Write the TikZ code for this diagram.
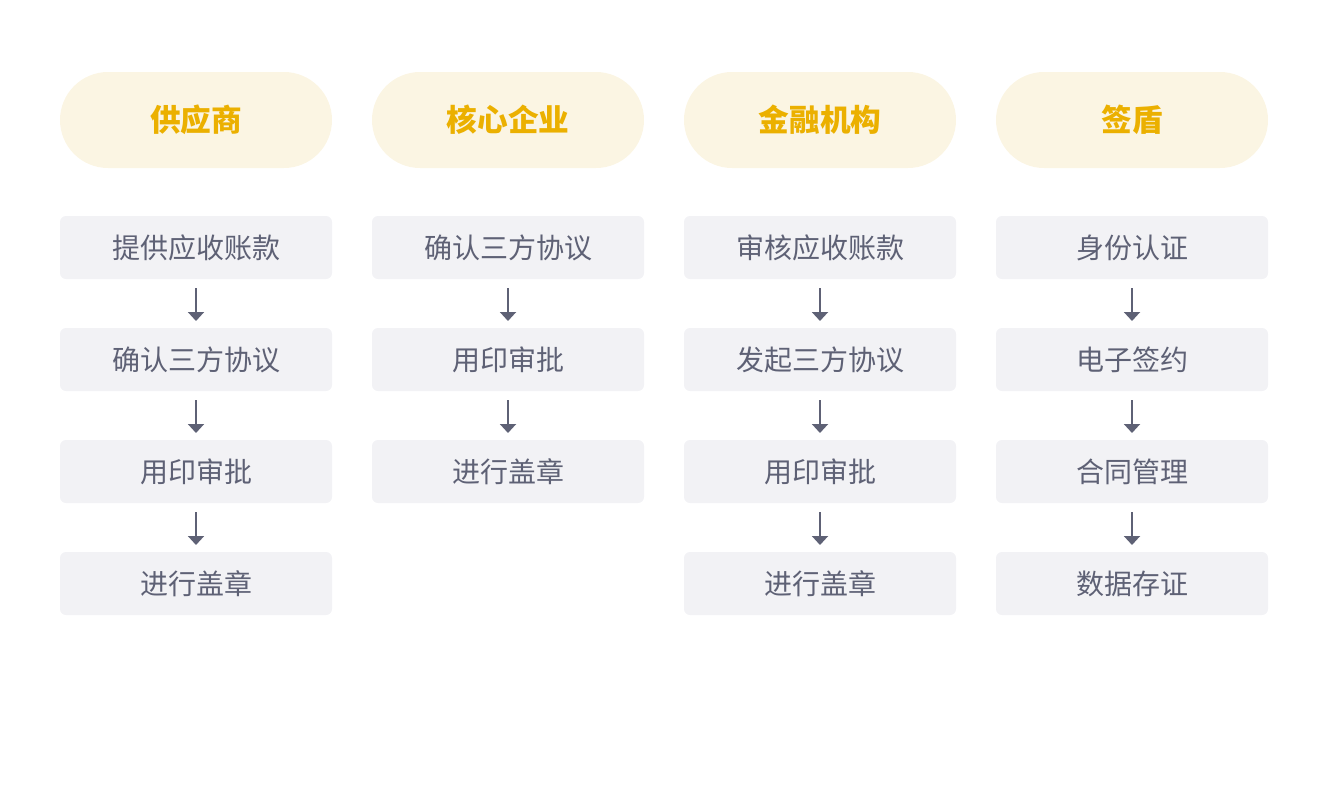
\documentclass[tikz,border=0pt]{standalone}
\usepackage{fontspec}
\setmainfont{Noto Sans CJK SC}
\usetikzlibrary{positioning,arrows.meta}
\definecolor{pillbg}{HTML}{FBF5E3}
\definecolor{pilltext}{HTML}{EBB000}
\definecolor{boxbg}{HTML}{F2F2F5}
\definecolor{boxtext}{HTML}{5E6175}

\begin{document}
\begin{tikzpicture}[x=0.75pt, y=-0.75pt, node distance=36.75pt,
    party/.style={fill=pillbg, text=pilltext, minimum width=204pt, minimum height=72pt, rounded corners=36pt, font=\fontsize{23}{23}\selectfont\bfseries},
    task/.style={fill=boxbg, text=boxtext, minimum width=204pt, minimum height=47.25pt, outer sep=0pt, rounded corners=4.5pt, font=\fontsize{21}{21}\selectfont},
    flow/.style={draw=boxtext, line width=1.5pt, -{Triangle[width=12pt, length=6.75pt]}, shorten <=6.75pt, shorten >=5.25pt}]
  \useasboundingbox (0,0) rectangle (1328,804);

  % headers
  \node[party] (sup) at (196,120) {供应商};
  \node[party] (core) at (508,120) {核心企业};
  \node[party] (bank) at (820,120) {金融机构};
  \node[party] (seal) at (1132,120) {签盾};

  % supplier
  \node[task] (sup1) at (196,247.5) {提供应收账款};
  \node[task, below=of sup1] (sup2) {确认三方协议};
  \node[task, below=of sup2] (sup3) {用印审批};
  \node[task, below=of sup3] (sup4) {进行盖章};

  % core company
  \node[task] (core1) at (508,247.5) {确认三方协议};
  \node[task, below=of core1] (core2) {用印审批};
  \node[task, below=of core2] (core3) {进行盖章};

  % bank
  \node[task] (bank1) at (820,247.5) {审核应收账款};
  \node[task, below=of bank1] (bank2) {发起三方协议};
  \node[task, below=of bank2] (bank3) {用印审批};
  \node[task, below=of bank3] (bank4) {进行盖章};

  % qiandun
  \node[task] (seal1) at (1132,247.5) {身份认证};
  \node[task, below=of seal1] (seal2) {电子签约};
  \node[task, below=of seal2] (seal3) {合同管理};
  \node[task, below=of seal3] (seal4) {数据存证};

  \foreach \a/\b in {sup1/sup2, sup2/sup3, sup3/sup4, core1/core2, core2/core3,
      bank1/bank2, bank2/bank3, bank3/bank4, seal1/seal2, seal2/seal3, seal3/seal4}
    \draw[flow] (\a) -- (\b);

\end{tikzpicture}
\end{document}
